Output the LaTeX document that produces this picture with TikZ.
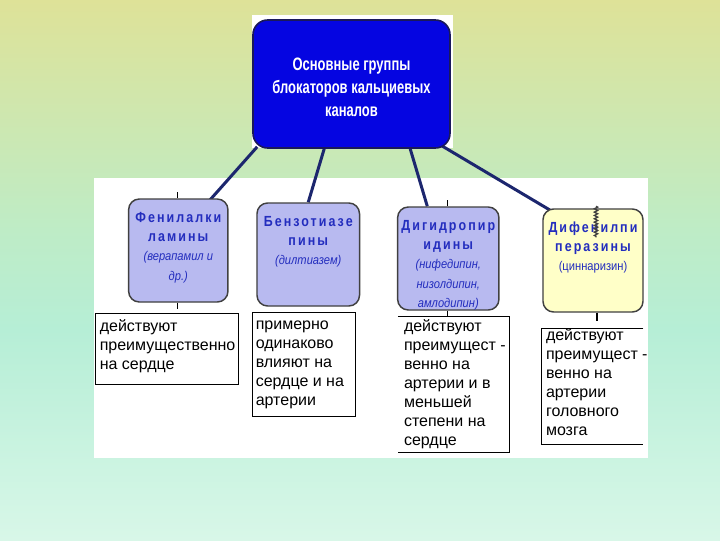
\documentclass[tikz,border=0pt]{standalone}
\usepackage{fontspec}
\setmainfont{Liberation Sans}
\newfontfamily\hdrfont[FakeStretch=0.72]{Liberation Sans}
\newfontfamily\ttlfont[LetterSpace=14,FakeStretch=0.85]{Liberation Sans}
\newfontfamily\nrwfont[FakeStretch=0.88]{Liberation Sans}
\newcommand\smallit{\nrwfont\itshape\fontsize{9.5}{14.5}\selectfont}
\newcommand\smallrm{\nrwfont\fontsize{9.5}{14.5}\selectfont}
\usetikzlibrary{calc,decorations.pathmorphing}
\pgfdeclarelayer{back}
\pgfdeclarelayer{mid}
\pgfsetlayers{back,mid,main}
\definecolor{bgA}{RGB}{222,226,152}
\definecolor{bgB}{RGB}{190,236,198}
\definecolor{bgC}{RGB}{182,238,214}
\definecolor{bgD}{RGB}{216,247,232}
\definecolor{topblue}{RGB}{5,5,225}
\definecolor{topedge}{RGB}{25,25,90}
\definecolor{lav}{RGB}{184,186,240}
\definecolor{paleyel}{RGB}{255,255,200}
\definecolor{boxedge}{RGB}{64,64,64}
\definecolor{ttlblue}{RGB}{35,45,190}
\definecolor{navy}{RGB}{28,38,110}
\tikzset{
  topbox/.style={rounded corners=11pt, fill=topblue, draw=topedge, line width=1.2pt, inner sep=0pt},
  toptxt/.style={text=white, font=\hdrfont\bfseries\fontsize{13.5}{17.3}\selectfont, align=center, inner sep=0pt},
  lavbox/.style={rounded corners=8pt, fill=lav, draw=boxedge, line width=1.1pt,
    minimum height=77.25pt, inner sep=0pt},
  lavtxt/.style={anchor=north, inner sep=0pt, align=center, text=ttlblue,
    font=\fontsize{11}{14.5}\selectfont},
  frame/.style={draw=black, line width=0.75pt, inner sep=0pt},
  txt/.style={anchor=north west, inner sep=0pt, align=left,
    font=\fontsize{12}{14.25}\selectfont},
  conn/.style={draw=navy, line width=2.25pt},
  tick/.style={draw=black, line width=0.75pt}
}
\begin{document}
\begin{tikzpicture}[x=0.75pt, y=-0.75pt]
\useasboundingbox (0,0) rectangle (720,540);
\begin{pgfonlayer}{back}
  \shade[top color=bgA, bottom color=bgB] (0,0) rectangle (720,230);
  \shade[top color=bgB, bottom color=bgC] (0,229.5) rectangle (720,330);
  \shade[top color=bgC, bottom color=bgD] (0,329.5) rectangle (720,540);
  \fill[white] (252,15) rectangle (453,148);
  \fill[white] (94,178) rectangle (648,458);
\end{pgfonlayer}

% top box
\node[topbox, minimum width=147.75pt, minimum height=96pt] (top) at (351.5,84) {};
\node[toptxt] (toplabel) at ($(top.center)+(0,3)$)
  {Основные группы\\блокаторов кальциевых\\каналов};

% group boxes
\node[lavbox, minimum width=74.5pt] (b1) at (178.3,250.5) {};
\node[lavbox, minimum width=76.9pt] (b2) at (308.25,254.5) {};
\node[lavbox, minimum width=76pt] (b3) at (448.3,258.5) {};
\node[lavbox, fill=paleyel, minimum width=75pt] (b4) at (593,260.5) {};

\node[lavtxt] (t1) at ($(b1.north)+(0,10)$)
  {\ttlfont\bfseries\strut Фенилалки\\ \ttlfont\bfseries ламины\\ \smallit (верапамил и\\ \smallit др.)};
\node[lavtxt] (t2) at ($(b2.north)+(0,10)$)
  {\ttlfont\bfseries\strut Бензотиазе\\ \ttlfont\bfseries пины\\ \smallit (дилтиазем)};
\node[lavtxt] (t3) at ($(b3.north)+(0,10)$)
  {\ttlfont\bfseries\strut Дигидропир\\ \ttlfont\bfseries идины\\ \smallit (нифедипин,\\ \smallit низолдипин,\\ \smallit амлодипин)};
\node[lavtxt] (t4) at ($(b4.north)+(0,10)$)
  {\ttlfont\bfseries\strut Дифенилпи\\ \ttlfont\bfseries перазины\\ \smallrm (циннаризин)};

% connectors
\begin{pgfonlayer}{mid}
  \draw[conn] ($(top.south west)+(5,-2)$) -- ($(b1.north east)+(-19,2)$);
  \draw[conn] ($(top.south west)+(72,0)$) -- (b2.north);
  \draw[conn] ($(top.south west)+(158,0)$) -- ($(b3.north)+(-21,0)$);
  \draw[conn] ($(top.south east)+(-9,-3)$) -- ($(b4.north west)+(8,2)$);
\end{pgfonlayer}

% small ticks
\draw[tick] ($(b1.north)+(-1.3,0)$) -- ++(0,-6);
\draw[tick] ($(b1.south)+(-1.3,0)$) -- ++(0,6);
\draw[tick] ($(b3.north)+(-1.3,0)$) -- ++(0,-6);
\draw[tick] ($(b3.south)+(-1.3,0)$) -- ++(0,6);
\draw[draw=black!75, line width=1pt, decorate,
  decoration={zigzag, amplitude=1.2pt, segment length=2.5pt}]
  ($(b4.north)+(3,-2)$) -- ($(b4.north)+(3,29)$);
\draw[draw=black, line width=1.5pt] ($(b4.south)+(4,0)$) -- ++(0,8);

% description frames
\node[frame, minimum width=107.6pt, minimum height=53.6pt] (f1) at (167.25,349.25) {};
\node[frame, minimum width=77.25pt, minimum height=77.55pt] (f2) at (304,364.3) {};
\node[inner sep=0pt, minimum width=83.6pt, minimum height=101.25pt] (f3) at (453.75,384.5) {};
\node[inner sep=0pt, minimum width=75.75pt, minimum height=86.25pt] (f4) at (592.5,386.5) {};
\draw[line width=0.75pt] (f3.north west) -- (f3.north east) -- (f3.south east) -- (f3.south west);
\draw[line width=0.75pt] (f4.north east) -- (f4.north west) -- (f4.south west) -- (f4.south east);

\node[txt] (x1) at ($(f1.north west)+(4.5,5)$) {\strut действуют\\преимущественно\\на сердце};
\node[txt] (x2) at ($(f2.north west)+(3.5,3.4)$) {\strut примерно\\одинаково\\влияют на\\сердце и на\\артерии};
\node[txt] (x3) at ($(f3.north west)+(6,1.5)$) {\strut действуют\\преимущест -\\венно на\\артерии и в\\меньшей\\степени на\\сердце};
\node[txt] (x4) at ($(f4.north west)+(4,-2)$) {\strut действуют\\преимущест -\\венно на\\артерии\\головного\\мозга};
\end{tikzpicture}
\end{document}
